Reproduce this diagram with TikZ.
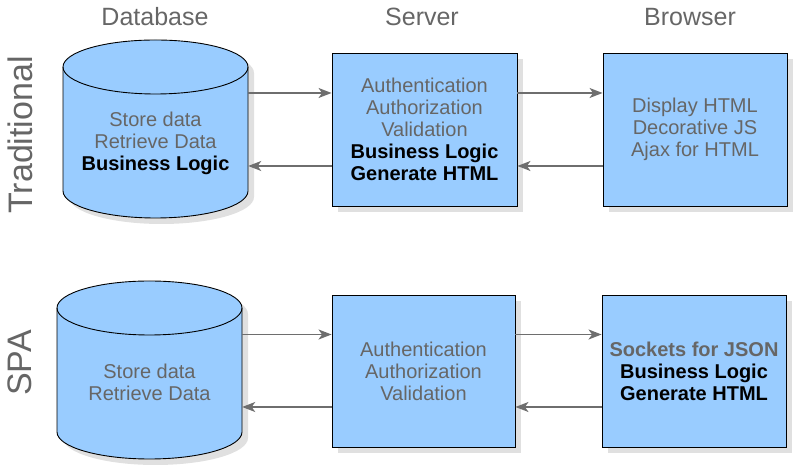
\documentclass[tikz,border=0pt]{standalone}
\usepackage{fontspec}
\setmainfont{Liberation Sans}
\usetikzlibrary{arrows.meta}
\definecolor{boxfill}{HTML}{99CCFF}
\definecolor{txtgray}{HTML}{666666}
\definecolor{arrgray}{HTML}{6E6E6E}
\definecolor{shadowgray}{HTML}{E0E0E0}
\newcommand\dbcylinder[3]{% cx, y of top ellipse centre, y of bottom ellipse centre
  \fill[shadowgray] (#1-92.5+6,#2-6) -- (#1-92.5+6,#3-6) arc[start angle=180,end angle=360,x radius=92.5pt,y radius=27pt] -- (#1+92.5+6,#2-6) arc[start angle=0,end angle=180,x radius=92.5pt,y radius=27pt] -- cycle;
  \filldraw[fill=boxfill,draw=black,line width=0.9pt] (#1-92.5,#2) -- (#1-92.5,#3) arc[start angle=180,end angle=360,x radius=92.5pt,y radius=27pt] -- (#1+92.5,#2) arc[start angle=0,end angle=180,x radius=92.5pt,y radius=27pt] -- cycle;
  \draw[line width=0.9pt] (#1-92.5,#2) arc[start angle=180,end angle=360,x radius=92.5pt,y radius=27pt];
}
\tikzset{
  procbox/.style={draw=black,line width=0.9pt,fill=boxfill,minimum width=185pt,minimum height=153pt,inner sep=0pt,align=center,font=\fontsize{20}{22}\selectfont,text=txtgray,
    preaction={fill=shadowgray,transform canvas={xshift=6pt,yshift=-6pt}}},
  dbtext/.style={minimum width=185pt,inner sep=0pt,align=center,font=\fontsize{20}{22}\selectfont,text=txtgray},
  header/.style={font=\fontsize{25}{28}\selectfont,text=txtgray},
  rowlabel/.style={font=\fontsize{34}{38}\selectfont,text=txtgray,rotate=90},
  arr/.style={draw=arrgray,line width=1.4pt,-{Stealth[length=13pt,width=10pt,inset=3.5pt]}}
}
\newcommand\bl[1]{\textcolor{black}{\textbf{#1}}}
\begin{document}
\begin{tikzpicture}[x=1pt,y=1pt]
\useasboundingbox (0,0) rectangle (800,470);
% headers
\node[header] (hdb) at (155,453) {Database};
\node[header] (hsv) at (422,453) {Server};
\node[header] (hbr) at (690,453) {Browser};
% row labels
\node[rowlabel] (ltrad) at (20,335) {Traditional};
\node[rowlabel] (lspa) at (20,107) {SPA};
% traditional row
\dbcylinder{155.5}{403}{279}
\node[dbtext] (db1) at (155.5,327) {Store data\\Retrieve Data\\\bl{Business Logic}};
\node[procbox] (srv1) at (424.5,340.5) {Authentication\\Authorization\\Validation\\\bl{Business Logic}\\\bl{Generate HTML}};
\node[procbox,minimum width=184pt] (brw1) at (695,340.5) {Display HTML\\Decorative JS\\Ajax for HTML};
% SPA row
\dbcylinder{149.5}{162}{38}
\node[dbtext] (db2) at (149.5,88) {Store data\\Retrieve Data};
\node[procbox,minimum width=183pt,minimum height=152pt] (srv2) at (423.5,99) {Authentication\\Authorization\\Validation};
\node[procbox,minimum width=184pt,minimum height=152pt] (brw2) at (694,99) {\textbf{Sockets for JSON}\\\bl{Business Logic}\\\bl{Generate HTML}};
% connectors
\coordinate (s1a) at ([yshift=36.5pt]srv1.west);
\coordinate (s1b) at ([yshift=-36.5pt]srv1.west);
\coordinate (b1a) at ([yshift=36.5pt]brw1.west);
\coordinate (b1b) at ([yshift=-36.5pt]brw1.west);
\draw[arr] (db1.east |- s1a) -- (s1a);
\draw[arr] (s1b) -- (db1.east |- s1b);
\draw[arr] (srv1.east |- b1a) -- (b1a);
\draw[arr] (b1b) -- (srv1.east |- b1b);
\coordinate (s2a) at ([yshift=36.5pt]srv2.west);
\coordinate (s2b) at ([yshift=-36pt]srv2.west);
\coordinate (b2a) at ([yshift=36.5pt]brw2.west);
\coordinate (b2b) at ([yshift=-36pt]brw2.west);
\draw[arr] (db2.east |- s2a) -- (s2a);
\draw[arr] (s2b) -- (db2.east |- s2b);
\draw[arr] (srv2.east |- b2a) -- (b2a);
\draw[arr] (b2b) -- (srv2.east |- b2b);
\end{tikzpicture}
\end{document}
